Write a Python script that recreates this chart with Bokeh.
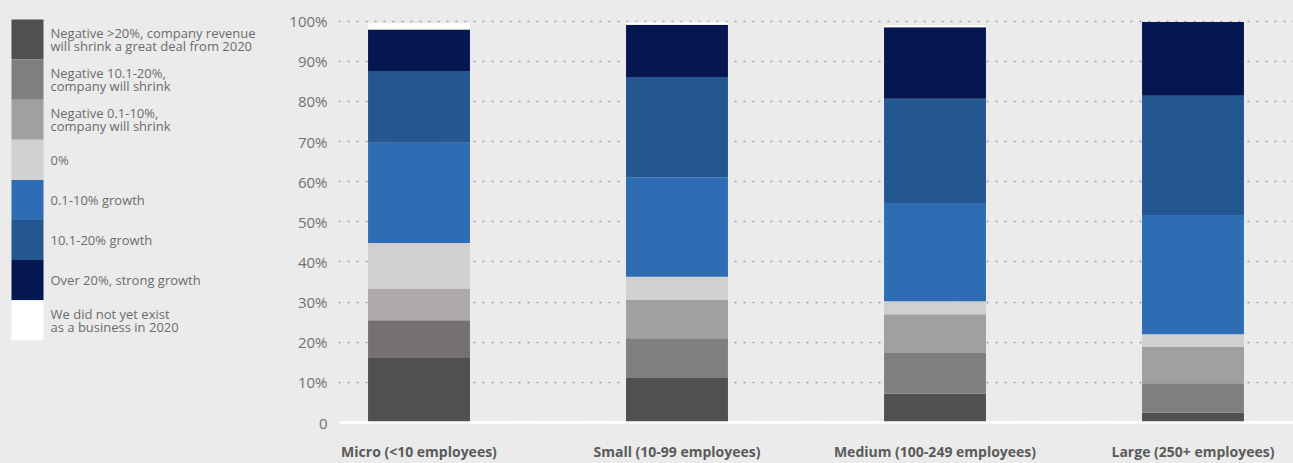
from bokeh.plotting import figure
from bokeh.layouts import row
from bokeh.models import Range1d, FixedTicker, Span, ColumnDataSource
from bokeh.core.properties import value
from bokeh.embed import file_html
from bokeh.resources import INLINE

# ---------------- data ----------------
categories = ["Micro (<10 employees)", "Small (10-99 employees)",
              "Medium (100-249 employees)", "Large (250+ employees)"]

series_labels = [
    "Negative >20%, company revenue\nwill shrink a great deal from 2020",
    "Negative 10.1-20%,\ncompany will shrink",
    "Negative 0.1-10%,\ncompany will shrink",
    "0%",
    "0.1-10% growth",
    "10.1-20% growth",
    "Over 20%, strong growth",
    "We did not yet exist\nas a business in 2020",
]

neg_over20 = [16.1, 11.1, 7.2, 2.5]
neg_10_20 = [9.4, 9.9, 10.1, 7.3]
neg_0_10 = [7.9, 9.6, 9.7, 9.1]
zero_pct = [11.3, 5.7, 3.2, 3.1]
grow_0_10 = [25.0, 24.8, 24.5, 29.7]
grow_10_20 = [17.9, 25.0, 26.0, 29.7]
grow_over20 = [10.3, 13.0, 17.8, 18.4]
not_exist = [1.6, 0.6, 0.4, 0.0]

series_values = [neg_over20, neg_10_20, neg_0_10, zero_pct,
                 grow_0_10, grow_10_20, grow_over20, not_exist]

y_ticks = [0, 10, 20, 30, 40, 50, 60, 70, 80, 90, 100]
y_tick_labels = ["0", "10%", "20%", "30%", "40%", "50%", "60%", "70%", "80%", "90%", "100%"]

# ---------------- styles ----------------
BG = "#ebebeb"
series_colors = ["#505050", "#7f7f7f", "#a0a0a0", "#d0d0d0",
                 "#2e6cb3", "#24568f", "#061650", "#ffffff"]
first_bar_overrides = {1: "#767170", 2: "#aeaaaa"}
TEXT = "#6b6b6b"
FONT = "Open Sans"

# long-form table for stacked bars
xs, bottoms, tops, colors = [], [], [], []
for j in range(len(categories)):
    base = 0.0
    for i, vals in enumerate(series_values):
        v = vals[j]
        xs.append(j)
        bottoms.append(base)
        tops.append(base + v)
        c = series_colors[i]
        if j == 0 and i in first_bar_overrides:
            c = first_bar_overrides[i]
        colors.append(c)
        base += v
src = ColumnDataSource(dict(x=xs, bottom=bottoms, top=tops, color=colors))

# ---------------- main chart ----------------
W, H = 1293, 463
LW = 283
PX_PER_CAT = 258.0
MB_LEFT = 55
MB_TOP, MB_BOTTOM = 14, 36
FRAME_W = W - LW - MB_LEFT
p = figure(width=W - LW, height=H,
           x_range=Range1d(-0.312, -0.312 + FRAME_W / PX_PER_CAT),
           y_range=Range1d(-0.49, 101.66),
           output_backend="svg", toolbar_location=None,
           min_border_left=MB_LEFT, min_border_right=0,
           min_border_top=MB_TOP, min_border_bottom=MB_BOTTOM,
           background_fill_color=BG, border_fill_color=BG)
p.outline_line_color = None

p.vbar(x="x", bottom="bottom", top="top", width=0.395,
       fill_color="color", line_color=None, source=src)

p.add_layout(Span(location=0, dimension="width", line_color="white", line_width=2.5))

p.xgrid.grid_line_color = None
p.ygrid.ticker = FixedTicker(ticks=y_ticks)
p.ygrid.grid_line_color = "#9a9ac8"
p.ygrid.grid_line_dash = "2 7"
p.ygrid.grid_line_width = 1.5

p.xaxis.ticker = FixedTicker(ticks=list(range(len(categories))))
p.xaxis.major_label_overrides = {i: c for i, c in enumerate(categories)}
p.xaxis.axis_line_color = None
p.xaxis.major_tick_line_color = None
p.xaxis.minor_tick_line_color = None
p.xaxis.major_tick_out = 0
p.xaxis.major_tick_in = 0
p.xaxis.major_label_standoff = 17
p.xaxis.major_label_text_font = FONT
p.xaxis.major_label_text_font_style = "bold"
p.xaxis.major_label_text_font_size = "14px"
p.xaxis.major_label_text_color = "#5a5a5a"

p.yaxis.ticker = FixedTicker(ticks=y_ticks)
p.yaxis.major_label_overrides = {t: l for t, l in zip(y_ticks, y_tick_labels)}
p.yaxis.axis_line_color = None
p.yaxis.major_tick_line_color = None
p.yaxis.minor_tick_line_color = None
p.yaxis.major_tick_out = 0
p.yaxis.major_tick_in = 0
p.yaxis.major_label_standoff = 11
p.yaxis.major_label_text_font = FONT
p.yaxis.major_label_text_font_size = "15px"
p.yaxis.major_label_text_color = "#727272"

# ---------------- legend panel ----------------
# frame spans the same vertical band as the main chart; data y == page y
lg = figure(width=LW, height=H, x_range=Range1d(0, LW),
            y_range=Range1d(H - MB_BOTTOM, MB_TOP),
            x_axis_type=None, y_axis_type=None,
            output_backend="svg", toolbar_location=None,
            min_border_left=0, min_border_right=0,
            min_border_top=MB_TOP, min_border_bottom=MB_BOTTOM,
            background_fill_color=BG, border_fill_color=BG)
lg.outline_line_color = None

SW_TOP, SW_H, SW_L, SW_R, TX = 19.0, 40.4, 11.0, 43.0, 50.0
lefts, rights, qtops, qbots = [], [], [], []
tx, ty, tt = [], [], []
for i, lab in enumerate(series_labels):
    t = SW_TOP + i * SW_H
    lefts.append(SW_L); rights.append(SW_R); qtops.append(t); qbots.append(t + SW_H)
    lines = lab.split("\n")
    mid = t + SW_H / 2
    n = len(lines)
    for k, ln in enumerate(lines):
        tx.append(TX)
        ty.append(mid + (k - (n - 1) / 2) * 13.0)
        tt.append(ln)
lg.quad(left=lefts, right=rights, top=qtops, bottom=qbots,
        fill_color=series_colors, line_color=None)
lg.text(x=tx, y=ty, text=tt, text_font=value(FONT), text_font_size="13px",
        text_color=TEXT, text_baseline="middle", text_align="left")

layout = row(lg, p)
layout.spacing = 0

template = "{% block preamble %}<style>body{background:#ebebeb;}</style>{% endblock %}"
open("out.html", "w").write(file_html(layout, INLINE, template=template))
